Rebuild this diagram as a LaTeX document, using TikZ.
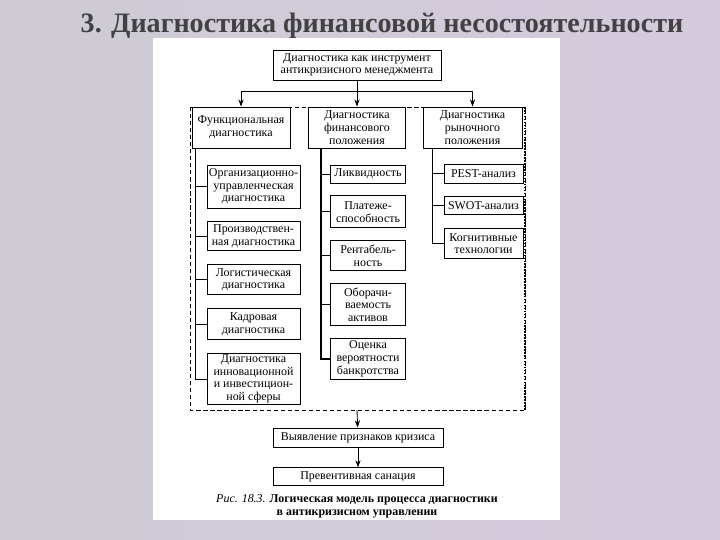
\documentclass[tikz,border=0pt]{standalone}
\usepackage{fontspec}
\setmainfont{Liberation Serif}
\usepackage{tikz}
\usetikzlibrary{arrows.meta,positioning,calc}

\definecolor{slideside}{RGB}{206,203,212}
\definecolor{slideright}{RGB}{212,202,220}
\definecolor{slidemid}{RGB}{236,235,239}
\definecolor{titlegray}{RGB}{66,66,68}

\begin{document}
\begin{tikzpicture}[
  x=0.25mm, y=-0.25mm,
  sz/.style 2 args={minimum width=#1*0.25mm, minimum height=#2*0.25mm},
  box/.style={draw, fill=white, align=center, inner sep=1pt, line width=0.6pt,
    font=\fontsize{8.5}{9}\selectfont},
  arr/.style={-{Stealth[length=1.8mm, width=1.3mm]}, line width=0.6pt},
  conn/.style={line width=0.6pt},
  trunk/.style={line width=1.3pt},
  frame/.style={densely dashed, line width=0.5pt}
]
  % slide background and white sheet
  \fill[left color=slideside, middle color=slidemid, right color=slideright] (0,0) rectangle (720,540);
  \useasboundingbox (0,0) rectangle (720,540);
  \fill[white] (153,38) rectangle (560,520);

  \node[font=\fontsize{20}{22}\selectfont\bfseries, text=titlegray] (ttl) at (382,26)
    {3. Диагностика финансовой несостоятельности};

  % dashed frame round the three directions
  \coordinate (fnw) at (190,107);
  \coordinate (fse) at (525,410);
  \draw[frame] (fnw) rectangle (fse);
  \draw[densely dotted, line width=1.1pt] (fnw -| fse) -- (fse);

  \node[box, sz={168}{30}] (top) at (357,65) {Диагностика как инструмент\\антикризисного менеджмента};
  \node[box, sz={98}{41}] (fun) at (241,127.5) {Функциональная\\диагностика};
  \node[box, sz={97}{41}] (fin) at (357,127.5) {Диагностика\\финансового\\положения};
  \node[box, sz={99}{41}] (mkt) at (472.5,127.5) {Диагностика\\рыночного\\положения};

  % functional diagnostics
  \node[box, sz={93}{43}] (org) at (253.5,186.5) {Организационно-\\управленческая\\диагностика};
  \node[box, sz={93}{29}, below=3.25mm of org] (prod) {Производствен-\\ная диагностика};
  \node[box, sz={93}{30}, below=3.25mm of prod] (log) {Логистическая\\диагностика};
  \node[box, sz={93}{31}, below=3.25mm of log] (kadr) {Кадровая\\диагностика};
  \node[box, sz={93}{50}, below=3.25mm of kadr] (innov) {Диагностика\\инновационной\\и инвестицион-\\ной сферы};

  % financial position
  \node[box, sz={75}{18}] (liq) at (368,174) {Ликвидность};
  \node[box, sz={75}{32}, below=3mm of liq] (solv) {Платеже-\\способность};
  \node[box, sz={75}{30}, below=3mm of solv] (prof) {Рентабель-\\ность};
  \node[box, sz={75}{42}, below=3mm of prof] (turn) {Оборачи-\\ваемость\\активов};
  \node[box, sz={75}{41}, below=3mm of turn] (risk) {Оценка\\вероятности\\банкротства};

  % market position
  \node[box, sz={79}{19}] (pest) at (483.5,173.5) {PEST-анализ};
  \node[box, sz={79}{18}, below=3.25mm of pest] (swot) {SWOT-анализ};
  \node[box, sz={79}{30}, below=3.25mm of swot] (cogn) {Когнитивные\\технологии};

  \node[box, sz={170}{19}] (warn) at (358,437.5) {Выявление признаков кризиса};
  \node[box, sz={170}{18}, below=5mm of warn] (san) {Превентивная санация};

  \node[align=center, font=\fontsize{8.5}{9.2}\selectfont] (cap) at (357,506)
    {{\itshape Рис. 18.3.} \textbf{Логическая модель процесса диагностики}\\
     \textbf{в антикризисном управлении}};

  \coordinate (br) at (357,91);
  \draw[conn] (top) -- (br);
  \draw[arr] (br) -| (fun);
  \draw[arr] (br) -- (fin);
  \draw[arr] (br) -| (mkt);

  \coordinate (lt) at ($(fun.south west)+(4,0)$);
  \draw[conn] (lt) |- (innov);
  \foreach \n in {org,prod,log,kadr}
    \draw[conn] (lt |- \n) -- (\n);

  \coordinate (mt) at ($(fin.south west)+(13,0)$);
  \draw[trunk] (mt) |- (risk);
  \foreach \n in {liq,solv,prof,turn}
    \draw[conn] (mt |- \n) -- (\n);

  \coordinate (rt) at ($(mkt.south west)+(10,0)$);
  \draw[conn] (rt) |- (cogn);
  \foreach \n in {pest,swot}
    \draw[conn] (rt |- \n) -- (\n);

  \coordinate (fs) at (357,410);
  \draw[arr] (fs) -- (warn);
  \draw[arr] (warn) -- (san);
\end{tikzpicture}
\end{document}
